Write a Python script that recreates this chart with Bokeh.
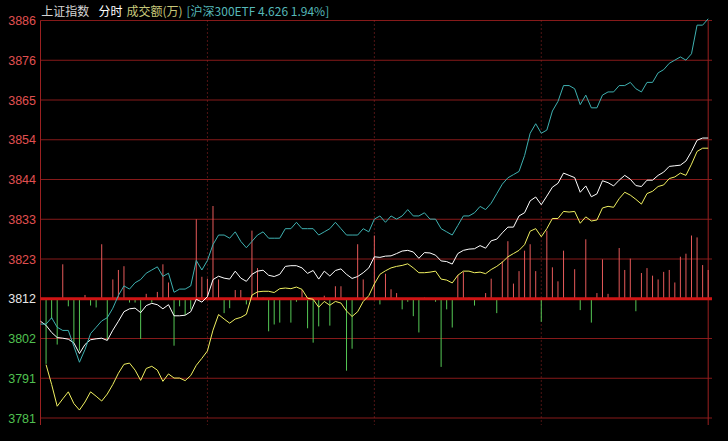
import numpy as np
from bokeh.plotting import figure
from bokeh.models import Range1d
from bokeh.core.properties import value
from bokeh.embed import file_html
from bokeh.resources import INLINE

# ---------------- data ----------------
PREV_CLOSE = 3812.0
GRID_STEP = 10.5
TICK_LABELS = ["3886", "3876", "3865", "3854", "3844", "3833", "3823",
               "3812", "3802", "3791", "3781"]
ETF_NAME = "沪深300ETF"
ETF_LAST = 4.626
ETF_PCT = 1.94
MINUTES = list(range(0, 241, 2))

INDEX = [3806.05, 3804.97, 3803.09, 3801.75, 3801.58, 3801.32, 3800.31, 3797.53, 3799.91, 3801.17,
         3801.42, 3801.58, 3800.99, 3803.70, 3806.05, 3808.58, 3809.34, 3809.52, 3808.33, 3810.18,
         3810.79, 3810.43, 3809.34, 3810.43, 3807.50, 3807.50, 3807.65, 3808.58, 3811.87, 3811.11,
         3812.56, 3817.06, 3817.95, 3817.44, 3817.19, 3819.29, 3817.44, 3816.60, 3818.45, 3819.29,
         3819.54, 3818.20, 3817.87, 3818.45, 3820.55, 3820.73, 3820.73, 3820.15, 3818.70, 3819.46,
         3817.19, 3819.29, 3818.02, 3819.46, 3819.89, 3818.45, 3817.36, 3817.87, 3818.88, 3820.15,
         3823.08, 3822.93, 3823.26, 3823.33, 3823.94, 3824.60, 3824.78, 3824.35, 3822.68, 3824.19,
         3824.09, 3823.51, 3821.99, 3821.82, 3821.16, 3823.94, 3824.78, 3825.11, 3825.21, 3826.04,
         3825.36, 3827.31, 3827.74, 3829.41, 3830.92, 3830.92, 3833.88, 3834.72, 3837.86, 3838.87,
         3836.84, 3839.12, 3841.47, 3842.49, 3845.19, 3844.59, 3844.00, 3840.13, 3841.80, 3838.94,
         3839.70, 3843.17, 3842.66, 3841.80, 3843.32, 3844.59, 3843.57, 3841.90, 3841.65, 3843.32,
         3843.32, 3844.59, 3845.45, 3846.96, 3847.12, 3847.29, 3848.38, 3850.91, 3853.87, 3854.45,
         3854.45]

AVG = [float("nan"), 3794.59, 3789.36, 3783.61, 3785.56, 3787.41, 3784.30, 3782.60, 3784.73, 3787.41,
       3786.24, 3784.98, 3786.83, 3789.36, 3792.32, 3794.67, 3795.00, 3793.15, 3790.44, 3793.58,
       3794.16, 3793.15, 3790.19, 3792.14, 3791.05, 3791.05, 3790.37, 3791.71, 3794.42, 3796.26,
       3798.21, 3803.70, 3807.83, 3806.64, 3805.55, 3806.64, 3807.07, 3807.90, 3812.96, 3813.82,
       3813.97, 3813.97, 3813.64, 3814.66, 3814.83, 3814.66, 3815.09, 3814.48, 3812.13, 3811.87,
       3809.77, 3811.29, 3810.28, 3811.29, 3810.86, 3808.76, 3807.32, 3808.58, 3811.29, 3812.81,
       3815.92, 3818.45, 3819.39, 3820.15, 3820.55, 3820.80, 3821.23, 3820.15, 3818.88, 3818.88,
       3819.03, 3819.29, 3817.19, 3816.93, 3816.17, 3818.20, 3819.29, 3819.29, 3818.88, 3819.03,
       3818.63, 3819.72, 3820.55, 3821.66, 3823.08, 3823.94, 3824.78, 3826.29, 3829.84, 3830.52,
       3828.39, 3830.52, 3833.20, 3833.20, 3835.07, 3834.90, 3835.07, 3831.94, 3833.63, 3832.54,
       3832.80, 3835.98, 3836.41, 3836.16, 3838.44, 3840.13, 3839.37, 3838.26, 3837.00, 3839.78,
       3840.39, 3841.65, 3842.06, 3843.75, 3844.18, 3845.19, 3844.59, 3847.55, 3850.91, 3851.77,
       3851.77]

ETF = [4.530, 4.530, 4.532, 4.529, 4.528, 4.528, 4.523, 4.518, 4.522, 4.527,
       4.529, 4.531, 4.532, 4.535, 4.539, 4.542, 4.541, 4.543, 4.544, 4.546,
       4.547, 4.548, 4.545, 4.546, 4.540, 4.541, 4.541, 4.542, 4.550, 4.547,
       4.550, 4.555, 4.558, 4.558, 4.557, 4.559, 4.556, 4.554, 4.556, 4.558,
       4.559, 4.557, 4.557, 4.557, 4.560, 4.560, 4.562, 4.560, 4.560, 4.560,
       4.558, 4.559, 4.560, 4.562, 4.560, 4.558, 4.558, 4.558, 4.560, 4.559,
       4.563, 4.564, 4.562, 4.564, 4.563, 4.564, 4.566, 4.564, 4.564, 4.565,
       4.563, 4.563, 4.560, 4.559, 4.558, 4.561, 4.564, 4.564, 4.565, 4.567,
       4.566, 4.568, 4.571, 4.574, 4.576, 4.577, 4.578, 4.583, 4.590, 4.593,
       4.590, 4.591, 4.597, 4.600, 4.605, 4.605, 4.604, 4.599, 4.602, 4.598,
       4.598, 4.602, 4.603, 4.603, 4.605, 4.605, 4.606, 4.604, 4.603, 4.606,
       4.606, 4.609, 4.610, 4.612, 4.613, 4.614, 4.613, 4.615, 4.624, 4.624,
       4.626]

BREADTH = [0, -17.2, -5.3, -12.1, 9.1, -2.0, -11.6, -13.7, 1.0, -1.8,
           -2.3, 14.4, -10.9, 5.1, 7.6, 8.6, -1.0, -1.0, -10.6, 1.3,
           -1.0, 1.8, 9.1, 4.3, -12.4, -2.0, -4.3, -2.8, 21.0, 5.8,
           5.3, 24.5, 5.1, -3.8, -2.5, 2.3, 2.3, -1.5, 18.0, 8.1,
           0.3, -8.6, -6.8, -6.3, 0, -6.3, -0.8, 2.3, -7.8, -11.6,
           -7.3, 0.8, -7.1, 3.3, 3.3, -19.0, -13.2, 14.4, 5.1, 0,
           16.7, -1.5, 6.6, 2.5, 1.5, -2.8, -0.8, -4.6, -8.9, 0.3,
           -0.3, -0.8, -18.0, -2.8, -7.6, 6.3, 7.1, 0.3, -1.8, 0,
           1.5, 5.3, -3.8, 9.9, 15.2, 4.0, 7.3, 12.7, 14.4, 7.3,
           -6.1, 18.0, 8.3, 4.6, 12.7, -0.3, 7.8, -3.0, 15.7, -6.3,
           1.5, 10.4, 1.3, -0.3, 13.4, 7.6, 10.6, -3.3, 6.8, 8.1,
           6.1, 5.1, 7.1, 7.6, 4.3, 11.1, 11.9, 16.7, 16.2, 8.9,
           7.6]

# ---------------- layout ----------------
W, H = 712, 425
LEFT_PX, RIGHT_PX = 40.0, 707.7      # px where minute 0 / 240 sit
TOP_PX, BOT_PX = 20.0, 417.5         # px of the top / bottom grid lines
N_UP, N_DOWN = 7, 3

sx = (RIGHT_PX - LEFT_PX) / 240.0
x_start = -LEFT_PX / sx
x_end = x_start + W / sx

top_val = PREV_CLOSE + N_UP * GRID_STEP
bot_val = PREV_CLOSE - N_DOWN * GRID_STEP
sy = (BOT_PX - TOP_PX) / (top_val - bot_val)
y_end = top_val + TOP_PX / sy
y_start = y_end - H / sy

tick_vals = [PREV_CLOSE + k * GRID_STEP for k in range(N_UP, -N_DOWN - 1, -1)]

etf_prev = ETF_LAST / (1 + ETF_PCT / 100.0)
etf_on_axis = PREV_CLOSE * np.array(ETF) / etf_prev

p = figure(width=W, height=H, x_range=Range1d(x_start, x_end),
           y_range=Range1d(y_start, y_end), output_backend="svg",
           toolbar_location=None, x_axis_location=None, y_axis_location=None,
           min_border=0, background_fill_color="black",
           border_fill_color="black", outline_line_color=None)
p.grid.visible = False

GRID_COLOR = "#861a1a"
# horizontal grid lines
hv = [v for v in tick_vals if v != PREV_CLOSE]
p.segment(x0=[0] * len(hv), x1=[x_end + 5] * len(hv), y0=hv, y1=hv,
          line_color=GRID_COLOR, line_width=1)

# vertical frame lines and dotted hour lines
p.segment(x0=[0, 240], x1=[0, 240], y0=[top_val] * 2, y1=[y_start - 5] * 2,
          line_color="#9a2020", line_width=1)
p.segment(x0=[60, 120, 180], x1=[60, 120, 180], y0=[top_val] * 3,
          y1=[y_start - 5] * 3, line_color="#a02828", line_width=1,
          line_dash="1 3")

# breadth bars
mins = np.array(MINUTES, dtype=float)
br = np.array(BREADTH, dtype=float)
up = br > 0
dn = br < 0
p.segment(x0=mins[up], x1=mins[up], y0=[PREV_CLOSE] * int(up.sum()),
          y1=PREV_CLOSE + br[up], line_color="#e65a5a", line_width=1)
p.segment(x0=mins[dn], x1=mins[dn], y0=[PREV_CLOSE] * int(dn.sum()),
          y1=PREV_CLOSE + br[dn], line_color="#55c855", line_width=1)

# zero (previous close) line
p.segment(x0=[0], x1=[x_end + 5], y0=[PREV_CLOSE], y1=[PREV_CLOSE],
          line_color="#d01414", line_width=3)

# lines
p.line(mins, np.array(AVG, dtype=float), line_color="#f0f060", line_width=1)
p.line(mins, np.array(INDEX, dtype=float), line_color="#ffffff", line_width=1)
p.line(mins, etf_on_axis, line_color="#3eb0b0", line_width=1)

# y labels
lab_colors = ["#e05050" if v > PREV_CLOSE else ("#e8e8e8" if v == PREV_CLOSE else "#50c050")
              for v in tick_vals]
lab_x = x_start + 35.5 / sx
p.text(x=[lab_x] * len(tick_vals), y=tick_vals, text=TICK_LABELS,
       text_align="right", text_baseline="middle",
       text_font=value("Liberation Sans"), text_font_size="12.5px",
       text_color=lab_colors)

# header
hy = y_end - 10.0 / sy
head_texts = ["上证指数", "分时", "成交额(万)",
              "[%s %.3f %.2f%%]" % (ETF_NAME, ETF_LAST, ETF_PCT)]
head_px = [40.7, 98.0, 126.0, 186.0]
head_colors = ["#d4d4d4", "#ffffff", "#c8c87a", "#55b8b8"]
p.text(x=[x_start + px / sx for px in head_px], y=[hy] * 4, text=head_texts,
       text_align="left", text_baseline="middle",
       text_font=value("Noto Sans CJK SC"), text_font_size="12px",
       text_color=head_colors)

html = file_html(p, INLINE)
html = html.replace("<head>", "<head><style>html,body{background:#000;}</style>", 1)
open("out.html", "w").write(html)
